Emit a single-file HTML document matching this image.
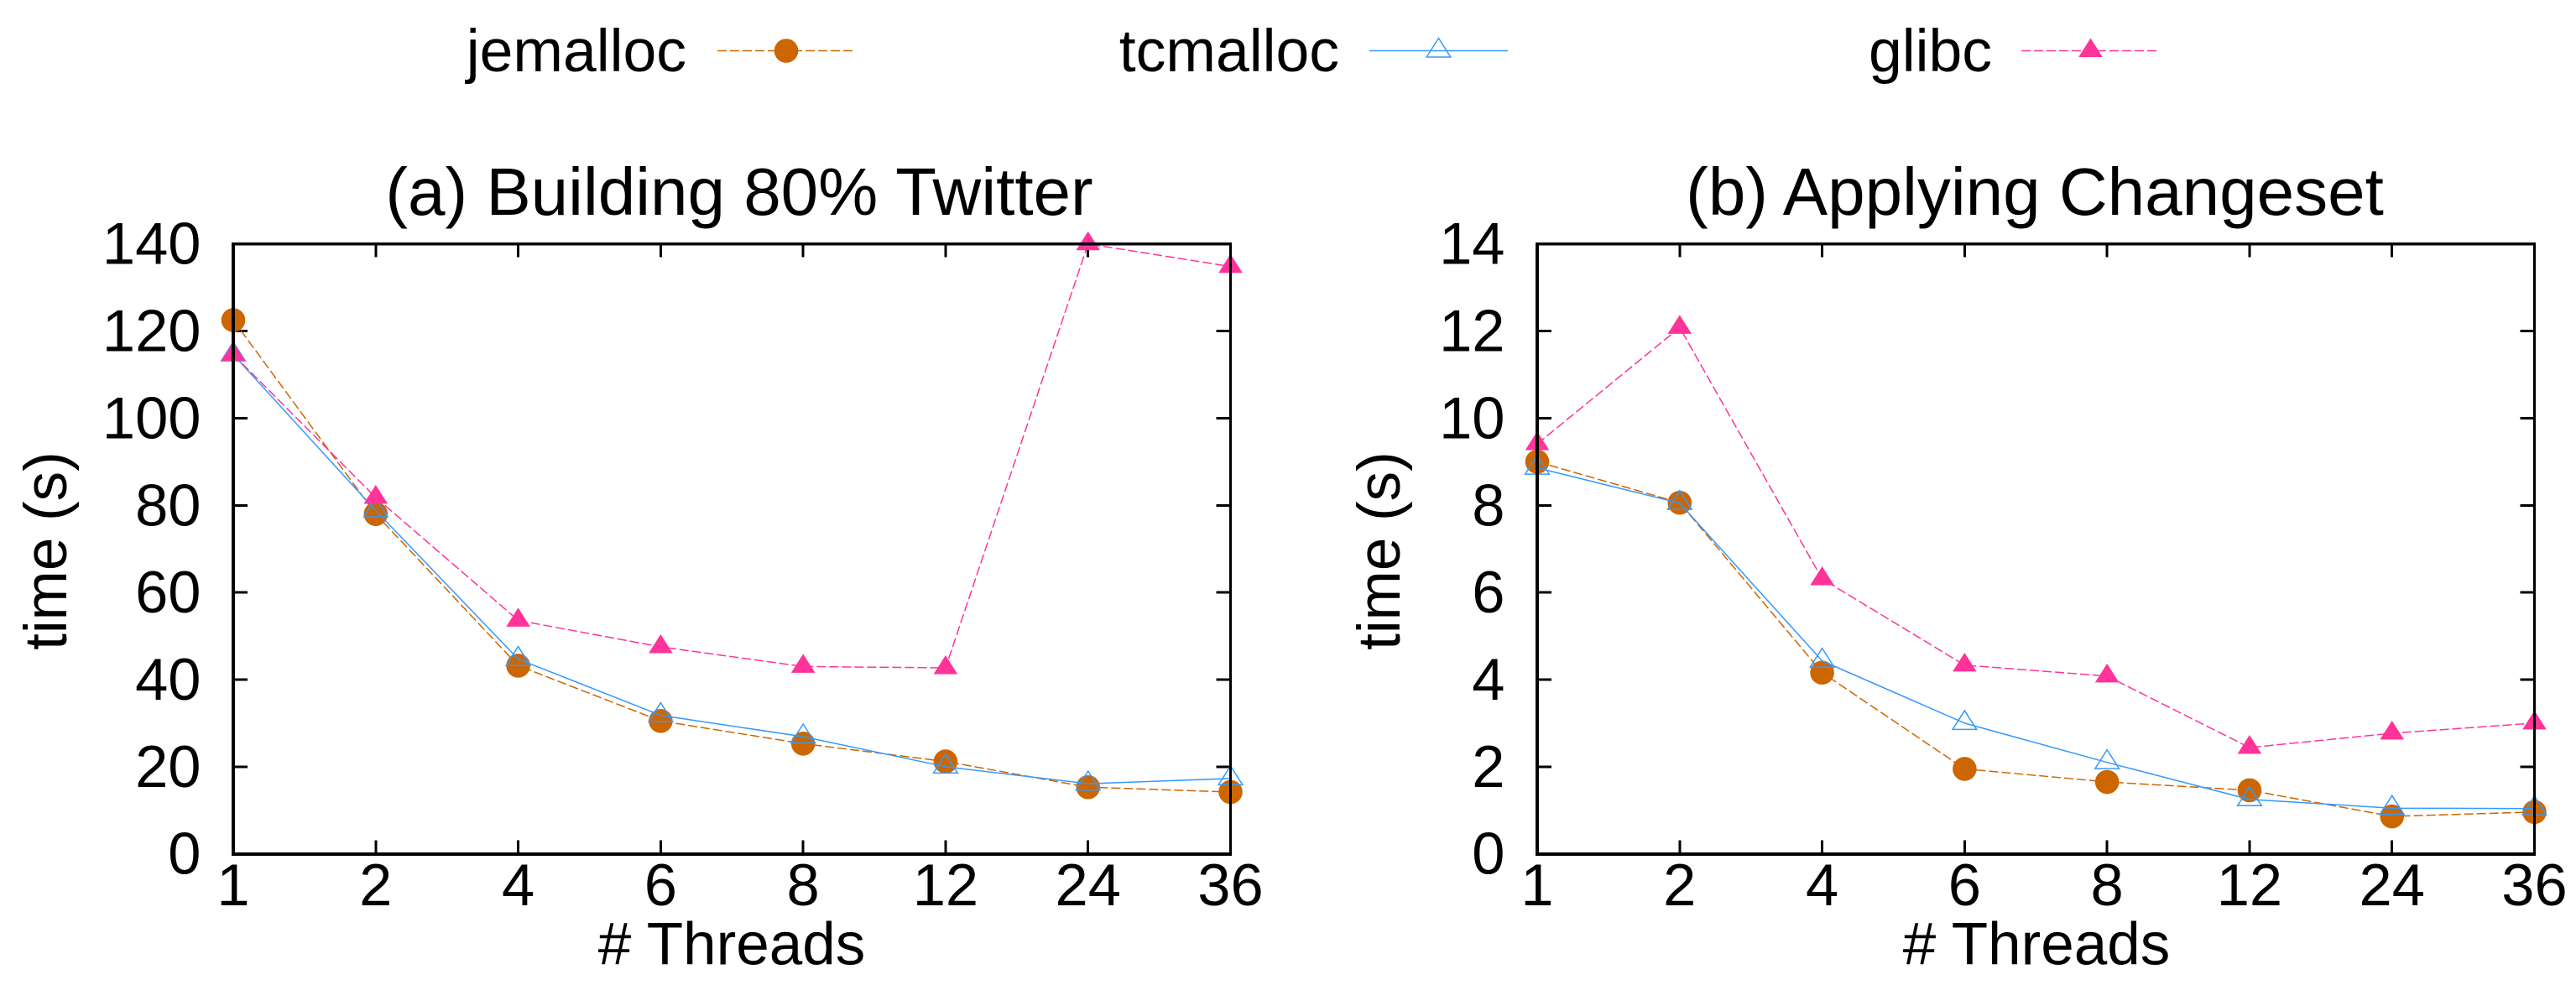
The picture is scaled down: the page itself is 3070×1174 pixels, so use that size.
<!DOCTYPE html>
<html lang="en">
<head>
<meta charset="utf-8">
<title>Allocator comparison</title>
<style>
  html, body { margin: 0; padding: 0; background: #fff; }
  body { width: 3070px; height: 1174px; overflow: hidden; }
  svg { display: block; font-family: "Liberation Sans", Arial, sans-serif; fill: #000; }
  text { font-size: 70.5px; }
  .title { font-size: 80px; }
  .axis-title { font-size: 71px; }
  .legend-label { font-size: 71.5px; }
</style>
</head>
<body>
<svg id="figure" xmlns="http://www.w3.org/2000/svg" width="3070" height="1174" viewBox="0 0 3070 1174">
  <rect width="3070" height="1174" fill="#fff"/>
  <g id="legend">
    <text class="legend-label" x="818" y="85" text-anchor="end">jemalloc</text>
    <text class="legend-label" x="1596" y="85" text-anchor="end">tcmalloc</text>
    <text class="legend-label" x="2374" y="85" text-anchor="end">glibc</text>
  </g>
  <g id="chart-a">
    <text class="title" x="881" y="256" text-anchor="middle">(a) Building 80% Twitter</text>
    <text class="axis-title" transform="translate(79 656.5) rotate(-90)" text-anchor="middle">time (s)</text>
    <text class="axis-title" x="872" y="1149.5" text-anchor="middle"># Threads</text>
  </g>
  <g id="chart-b">
    <text class="title" x="2425" y="256" text-anchor="middle">(b) Applying Changeset</text>
    <text class="axis-title" transform="translate(1668 656.5) rotate(-90)" text-anchor="middle">time (s)</text>
    <text class="axis-title" x="2427" y="1149.5" text-anchor="middle"># Threads</text>
  </g>
</svg>
<script>
const threadLabels = ["1", "2", "4", "6", "8", "12", "24", "36"];

const chartAYTicks = [0, 20, 40, 60, 80, 100, 120, 140];
const chartAJemalloc = [122.5, 78, 43.2, 30.5, 25.3, 21.2, 15.3, 14.2];
const chartATcmalloc = [114.6, 78.8, 44.7, 31.8, 26.9, 20, 16.1, 17.3];
const chartAGlibc = [114.6, 81.8, 53.6, 47.5, 43, 42.7, 140, 134.8];

const chartBYTicks = [0, 2, 4, 6, 8, 10, 12, 14];
const chartBJemalloc = [9, 8.06, 4.16, 1.95, 1.65, 1.46, 0.86, 0.96];
const chartBTcmalloc = [8.86, 8.05, 4.43, 3, 2.1, 1.25, 1.05, 1.04];
const chartBGlibc = [9.41, 12.08, 6.31, 4.33, 4.08, 2.44, 2.77, 3];

const NS = "http://www.w3.org/2000/svg";
const COLORS = { jemalloc: "#cc6600", tcmalloc: "#3399ff", glibc: "#ff3399" };
const DASHES = { jemalloc: "11 4", tcmalloc: "none", glibc: "11 4" };

function make(tag, parent, attrs) {
  const el = document.createElementNS(NS, tag);
  for (const k in attrs) el.setAttribute(k, attrs[k]);
  parent.appendChild(el);
  return el;
}

function drawMarker(parent, series, cx, cy) {
  const color = COLORS[series];
  let el;
  if (series === "jemalloc") {
    el = make("circle", parent, { cx: cx, cy: cy, r: 14.3, fill: color });
  } else {
    const pts = (cx - 14.3) + "," + (cy + 7.5) + " " + (cx + 14.3) + "," + (cy + 7.5) + " " + cx + "," + (cy - 15);
    if (series === "tcmalloc") {
      el = make("polygon", parent, { points: pts, fill: "none", stroke: color, "stroke-width": 1.5 });
    } else {
      el = make("polygon", parent, { points: pts, fill: color });
    }
  }
  
  
}

function drawSeries(parent, series, values, xOf, yOf) {
  const g = make("g", parent, {});
  
  
  const path = values.map((v, i) => xOf(i).toFixed(1) + "," + yOf(v).toFixed(1)).join(" ");
  const line = make("polyline", g, { points: path, fill: "none", stroke: COLORS[series], "stroke-width": 1.5, "stroke-dasharray": DASHES[series] });
  
  
  values.forEach((v, i) => drawMarker(g, series, xOf(i), yOf(v)));
}

function drawChart(group, box, yTicks, jemalloc, tcmalloc, glibc) {
  const yMax = yTicks[yTicks.length - 1];
  const xOf = i => box.left + i * (box.right - box.left) / (threadLabels.length - 1);
  const yOf = v => box.bottom - v * (box.bottom - box.top) / yMax;

  const ticks = make("g", group, { stroke: "#000", "stroke-width": 3, "shape-rendering": "crispEdges" });
  
  
  yTicks.forEach(t => {
    const lab = make("text", group, { x: box.left - 38.5, y: yOf(t) + 24, "text-anchor": "end" });
    lab.textContent = t;
    
    
    if (t !== 0 && t !== yMax) {
      const a = make("line", ticks, { x1: box.left, x2: box.left + 17, y1: yOf(t), y2: yOf(t) });
      
      
      const b = make("line", ticks, { x1: box.right, x2: box.right - 17, y1: yOf(t), y2: yOf(t) });
      
      
    }
  });
  threadLabels.forEach((t, i) => {
    const lab = make("text", group, { x: xOf(i), y: 1079, "text-anchor": "middle" });
    lab.textContent = t;
    
    
    if (i !== 0 && i !== threadLabels.length - 1) {
      const a = make("line", ticks, { y1: box.top, y2: box.top + 16, x1: xOf(i), x2: xOf(i) });
      
      
      const b = make("line", ticks, { y1: box.bottom, y2: box.bottom - 16, x1: xOf(i), x2: xOf(i) });
      
      
    }
  });

  drawSeries(group, "jemalloc", jemalloc, xOf, yOf);
  drawSeries(group, "tcmalloc", tcmalloc, xOf, yOf);
  drawSeries(group, "glibc", glibc, xOf, yOf);

  const frame = make("g", group, { stroke: "#000", "shape-rendering": "crispEdges" });
  
  
  const top = make("line", frame, { x1: box.left - 2, x2: box.right + 1.5, y1: box.top, y2: box.top, "stroke-width": 3.5 });
  
  
  const left = make("line", frame, { x1: box.left, x2: box.left, y1: box.top, y2: box.bottom + 2, "stroke-width": 4 });
  
  
  const right = make("line", frame, { x1: box.right, x2: box.right, y1: box.top, y2: box.bottom + 2, "stroke-width": 3 });
  
  
  const bottom = make("line", frame, { x1: box.left - 2, x2: box.right + 1.5, y1: box.bottom + 0.3, y2: box.bottom + 0.3, "stroke-width": 4 });
  
  
}

function drawLegendEntry(parent, series, x1, x2) {
  const y = 60.5;
  const g = make("g", parent, {});
  
  
  const line = make("line", g, { x1: x1, x2: x2, y1: y, y2: y, stroke: COLORS[series], "stroke-width": 1.5, "stroke-dasharray": DASHES[series] });
  
  
  drawMarker(g, series, (x1 + x2) / 2, y);
}

const legendGroup = document.getElementById("legend");
drawLegendEntry(legendGroup, "jemalloc", 855, 1019);
drawLegendEntry(legendGroup, "tcmalloc", 1632, 1797);
drawLegendEntry(legendGroup, "glibc", 2409, 2574);

drawChart(document.getElementById("chart-a"), { left: 278, right: 1466.5, top: 290.7, bottom: 1017.7 }, chartAYTicks, chartAJemalloc, chartATcmalloc, chartAGlibc);
drawChart(document.getElementById("chart-b"), { left: 1832, right: 3020.5, top: 290.7, bottom: 1017.7 }, chartBYTicks, chartBJemalloc, chartBTcmalloc, chartBGlibc);
</script>
</body>
</html>
